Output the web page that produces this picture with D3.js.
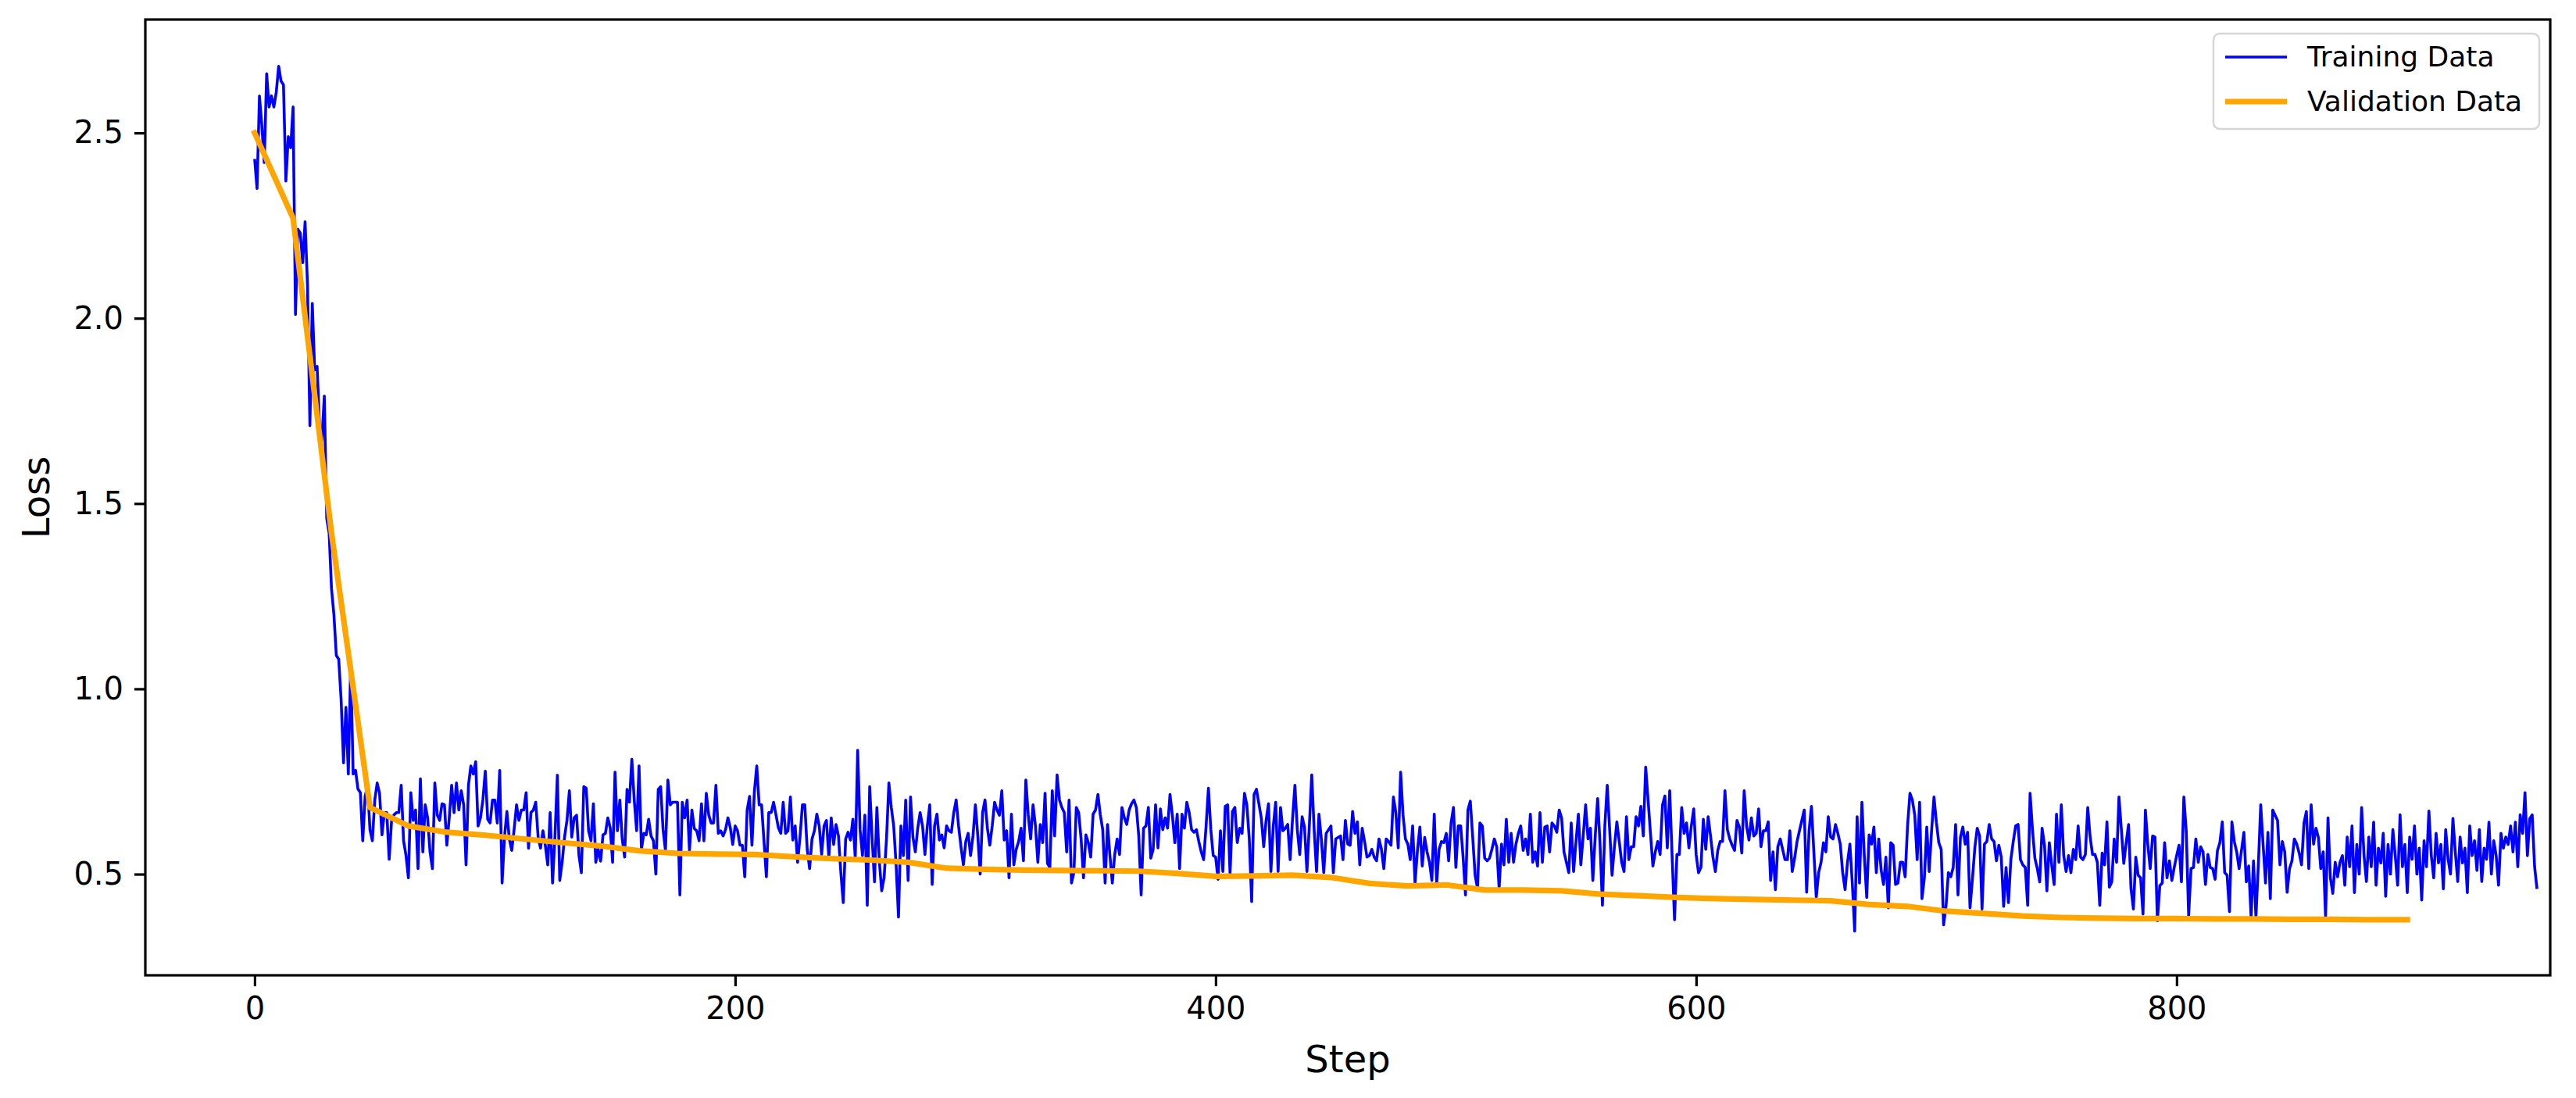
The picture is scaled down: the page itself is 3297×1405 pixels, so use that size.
<!DOCTYPE html>
<html>
<head>
<meta charset="utf-8">
<script src="https://cdn.jsdelivr.net/npm/d3@7"></script>
<style>
  body { margin: 0; background: #fff; }
  svg { display: block; }
</style>
</head>
<body>
<svg id="chart" width="3297" height="1405"></svg>
<script>
// ---------------- data ----------------
const trainLoss = [
  // steps 0-46
  2.43,2.35,2.60,2.52,2.42,2.66,2.57,2.60,2.57,2.61,2.68,2.64,2.63,2.37,2.49,2.46,2.57,2.01,2.24,2.23,
  2.15,2.26,2.09,1.71,2.04,1.86,1.87,1.71,1.67,1.79,1.46,1.42,1.27,1.20,1.09,1.08,0.97,0.80,0.95,0.77,
  1.07,0.77,0.78,0.73,0.72,0.59,0.71,
  // steps 47-137
  0.74,0.62,0.59,0.70,0.746,0.718,0.606,0.666,0.666,0.54,
  0.645,0.66,0.666,0.666,0.74,0.59,0.55,0.49,0.72,0.645,
  0.673,0.515,0.757,0.56,0.687,0.652,0.56,0.515,0.746,0.66,
  0.645,0.69,0.687,0.578,0.652,0.74,0.666,0.746,0.673,0.725,
  0.687,0.525,0.74,0.792,0.77,0.803,0.63,0.652,0.70,0.778,
  0.648,0.638,0.70,0.70,0.638,0.78,0.476,0.60,0.669,0.595,
  0.564,0.62,0.687,0.645,0.673,0.673,0.72,0.57,0.666,0.673,
  0.694,0.60,0.57,0.617,0.577,0.525,0.666,0.476,0.60,0.767,
  0.483,0.532,0.60,0.645,0.725,0.60,0.652,0.659,0.55,0.504,
  0.736,
  // steps 138-228
  0.732,0.617,0.59,0.69,0.532,0.567,0.535,0.606,0.61,0.652,
  0.625,0.532,0.775,0.617,0.70,0.595,0.546,0.729,0.694,0.81,
  0.70,0.617,0.792,0.567,0.61,0.606,0.648,0.603,0.59,0.50,
  0.729,0.736,0.62,0.564,0.754,0.687,0.694,0.694,0.694,0.444,
  0.694,0.652,0.70,0.564,0.673,0.623,0.617,0.59,0.69,0.59,
  0.718,0.66,0.638,0.638,0.74,0.61,0.617,0.603,0.62,0.652,
  0.625,0.58,0.63,0.617,0.578,0.578,0.493,0.673,0.71,0.578,
  0.722,0.792,0.687,0.687,0.59,0.493,0.666,0.666,0.694,0.66,
  0.625,0.61,0.694,0.61,0.617,0.708,0.592,0.63,0.532,0.60,
  0.687,
  // steps 229-319
  0.687,0.567,0.515,0.595,0.617,0.662,0.63,0.553,0.63,0.645,
  0.546,0.652,0.58,0.634,0.603,0.504,0.423,0.595,0.613,0.592,
  0.648,0.543,0.834,0.62,0.55,0.659,0.416,0.736,0.60,0.479,0.68,0.536,
  0.455,0.49,0.595,0.746,0.68,0.63,0.525,0.384,0.63,0.55,0.70,
  0.483,0.708,0.60,0.56,0.624,0.666,0.63,0.553,0.63,0.687,0.472,
  0.63,0.662,0.592,0.606,0.571,0.63,0.617,0.613,0.666,0.70,
  0.63,0.574,0.525,0.588,0.61,0.55,0.603,0.687,0.603,0.50,
  0.666,0.70,0.624,0.578,0.63,0.694,0.673,0.659,0.725,0.592,
  0.617,0.49,0.662,0.525,0.567,0.588,0.624,
  // steps 320-410
  0.536,0.754,0.66,0.595,0.687,0.63,0.532,0.634,0.585,0.718,0.529,
  0.518,0.725,0.603,0.768,0.70,0.68,0.666,0.56,0.70,0.476,0.504,
  0.68,0.666,0.595,0.49,0.606,0.585,0.546,0.662,0.673,0.715,0.66,
  0.62,0.476,0.634,0.55,0.476,0.553,0.595,0.553,0.68,0.652,
  0.634,0.673,0.69,0.70,0.68,0.603,0.444,0.624,0.63,0.68,0.543,
  0.567,0.687,0.571,0.676,0.62,0.652,0.624,0.715,0.659,0.585,
  0.662,0.515,0.662,0.624,0.694,0.666,0.62,0.613,0.62,0.588,
  0.56,0.539,0.627,0.732,0.62,0.55,0.546,0.486,0.617,0.507,0.683,
  0.687,0.50,0.669,0.68,0.585,0.624,
  // steps 411-501
  0.61,0.718,0.687,0.595,0.426,0.715,0.729,0.69,0.652,0.574,0.645,
  0.69,0.507,0.63,0.694,0.507,0.68,0.617,0.624,0.634,0.539,
  0.648,0.74,0.62,0.553,0.655,0.627,0.507,0.63,0.768,0.62,0.507,0.662,
  0.595,0.504,0.61,0.62,0.63,0.504,0.595,0.599,0.603,0.539,
  0.645,0.581,0.578,0.669,0.61,0.641,0.525,0.624,0.588,0.546,
  0.55,0.567,0.546,0.536,0.595,0.567,0.515,0.595,0.588,0.578,
  0.708,0.666,0.571,0.775,0.66,0.595,0.581,0.539,0.63,0.476,0.564,
  0.627,0.522,0.599,0.56,0.532,0.483,0.662,0.476,0.567,0.588,
  0.585,0.61,0.536,0.638,0.68,0.518,0.63,
  // steps 502-592
  0.63,0.546,0.444,0.673,0.697,0.60,0.497,0.462,0.638,0.63,0.543,
  0.536,0.543,0.567,0.595,0.574,0.462,0.581,0.525,0.648,0.532,
  0.61,0.532,0.581,0.61,0.63,0.564,0.595,0.553,0.662,0.532,
  0.56,0.522,0.666,0.532,0.627,0.63,0.56,0.638,0.63,0.613,
  0.673,0.652,0.56,0.532,0.504,0.638,0.507,0.588,0.662,0.525,
  0.603,0.687,0.595,0.624,0.483,0.603,0.704,0.581,0.416,0.63,
  0.74,0.62,0.497,0.574,0.641,0.588,0.532,0.507,0.655,0.539,0.574,
  0.574,0.655,0.63,0.683,0.603,0.789,0.70,0.61,0.522,0.56,0.588,
  0.553,0.687,0.711,0.571,0.725,0.55,0.377,0.553,
  // steps 593-683
  0.553,0.68,0.61,0.638,0.571,0.63,0.676,0.553,0.504,0.518,
  0.648,0.567,0.655,0.603,0.546,0.507,0.564,0.588,0.588,0.725,0.62,
  0.595,0.578,0.564,0.645,0.627,0.557,0.725,0.63,0.592,0.652,0.603,
  0.61,0.676,0.574,0.617,0.617,0.641,0.483,0.56,0.458,0.574,
  0.595,0.567,0.539,0.539,0.617,0.507,0.543,0.588,0.617,0.645,
  0.673,0.451,0.617,0.683,0.56,0.437,0.504,0.532,0.585,0.56,0.655,0.60,
  0.595,0.634,0.61,0.581,0.504,0.458,0.532,0.581,0.476,0.346,
  0.655,0.476,0.694,0.55,0.437,0.606,0.581,0.627,0.504,0.595,0.511,
  0.472,0.546,0.409,0.585,0.578,0.472,
  // steps 684-774
  0.476,0.532,0.532,0.493,0.63,0.718,0.70,0.659,0.539,0.694,0.434,
  0.49,0.627,0.507,0.617,0.708,0.64,0.585,0.567,0.363,0.413,0.504,
  0.493,0.518,0.634,0.444,0.599,0.627,0.581,0.613,0.409,0.486,
  0.571,0.624,0.603,0.406,0.581,0.588,0.634,0.595,0.588,0.536,
  0.578,0.546,0.413,0.518,0.423,0.539,0.588,0.63,0.634,0.539,
  0.525,0.518,0.416,0.718,0.62,0.543,0.515,0.479,0.624,0.578,0.455,
  0.585,0.525,0.472,0.662,0.532,0.687,0.55,0.507,0.55,0.504,
  0.567,0.539,0.63,0.546,0.539,0.553,0.68,0.60,0.553,0.553,0.532,
  0.416,0.557,0.525,0.641,0.465,0.479,0.595,
  // steps 775-868
  0.532,0.708,0.62,0.529,0.585,0.634,0.462,0.406,0.546,0.497,0.49,
  0.392,0.673,0.58,0.515,0.603,0.60,0.374,0.469,0.476,0.585,0.49,
  0.536,0.483,0.518,0.55,0.578,0.479,0.708,0.617,0.388,0.515,
  0.518,0.595,0.532,0.574,0.56,0.472,0.553,0.518,0.515,0.486,
  0.564,0.585,0.641,0.504,0.497,0.399,0.641,0.588,0.56,0.515,
  0.564,0.613,0.479,0.522,0.384,0.536,0.384,0.522,0.687,0.58,0.476,
  0.613,0.434,0.673,0.659,0.645,0.525,0.588,0.56,0.451,0.515,
  0.536,0.595,0.581,0.557,0.525,0.638,0.669,0.515,0.687,0.581,
  0.624,0.599,0.515,0.56,0.384,0.652,0.49,0.448,0.532,0.493,
  0.532,
  // steps 869-950
  0.55,0.47,0.60,0.52,0.63,0.45,0.58,0.50,0.68,0.55,0.48,0.60,
  0.52,0.64,0.47,0.57,0.53,0.61,0.44,0.58,0.50,0.62,0.55,0.47,0.66,0.52,0.58,
  0.45,0.60,0.54,0.63,0.50,0.57,0.43,0.59,0.52,0.67,0.55,0.49,0.61,0.53,0.58,
  0.46,0.62,0.54,0.50,0.65,0.56,0.48,0.60,0.53,0.57,0.45,0.63,0.55,0.59,0.51,
  0.62,0.48,0.57,0.54,0.64,0.50,0.59,0.55,0.47,0.61,0.57,0.60,0.58,0.63,0.56,
  0.64,0.52,0.66,0.61,0.72,0.55,0.65,0.66,0.52,0.46
];

const valSteps = [0,16,32,48,64,80,96,112,128,144,160,176,192,208,224,240,256,272,288,304,
  320,336,352,368,384,400,416,432,448,464,480,496,512,528,544,560,576,592,608,624,
  640,656,672,688,704,720,736,752,768,784,800,816,832,848,864,880,896];
const valLoss = [2.50,2.27,1.42,0.68,0.63,0.613,0.605,0.595,0.585,0.576,
  0.563,0.556,0.554,0.553,0.547,0.542,0.538,0.532,0.516,0.513,
  0.511,0.510,0.509,0.508,0.502,0.494,0.495,0.497,0.491,0.475,
  0.468,0.471,0.457,0.457,0.455,0.446,0.442,0.437,0.434,0.432,
  0.430,0.428,0.418,0.413,0.400,0.394,0.387,0.383,0.381,0.380,
  0.380,0.379,0.379,0.378,0.378,0.377,0.377];

const seriesNames = ["Training Data", "Validation Data"];
const xTicks = [0, 200, 400, 600, 800];
const yTicks = [0.5, 1.0, 1.5, 2.0, 2.5];
const xDomain = [-45.5, 955.5];
const yDomain = [0.227, 2.806];

// ---------------- layout ----------------
const W = 3297, H = 1405;
const P = { left: 186, right: 3264, top: 25, bottom: 1248 };
const FONT = "'DejaVu Sans', sans-serif";

const x = d3.scaleLinear().domain(xDomain).range([P.left, P.right]);
const y = d3.scaleLinear().domain(yDomain).range([P.bottom, P.top]);

const svg = d3.select("#chart");
svg.append("rect").attr("width", W).attr("height", H).attr("fill", "#fff");

const line = d3.line().x(d => x(d[0])).y(d => y(d[1]));
const trainPts = trainLoss.map((v, i) => [i, v]);
const valPts = valSteps.map((s, i) => [s, valLoss[i]]);

svg.append("path").datum(trainPts)
  .attr("d", line).attr("fill", "none")
  .attr("stroke", "blue").attr("stroke-width", 3.6)
  .attr("stroke-linejoin", "round");

svg.append("path").datum(valPts)
  .attr("d", line).attr("fill", "none")
  .attr("stroke", "orange").attr("stroke-width", 7.2)
  .attr("stroke-linejoin", "round").attr("stroke-linecap", "square");

// axes
const gx = svg.append("g").attr("transform", `translate(0,${P.bottom})`)
  .call(d3.axisBottom(x).tickValues(xTicks).tickFormat(d3.format("d")).tickSize(14).tickPadding(14));
gx.select(".domain").remove();
gx.attr("font-size", 40).attr("font-family", FONT);
gx.selectAll(".tick line").attr("stroke", "#000").attr("stroke-width", 3.2);
gx.selectAll(".tick text").attr("fill", "#000");

const gy = svg.append("g").attr("transform", `translate(${P.left},0)`)
  .call(d3.axisLeft(y).tickValues(yTicks).tickFormat(d3.format(".1f")).tickSize(14).tickPadding(14));
gy.select(".domain").remove();
gy.attr("font-size", 40).attr("font-family", FONT);
gy.selectAll(".tick line").attr("stroke", "#000").attr("stroke-width", 3.2);
gy.selectAll(".tick text").attr("fill", "#000");

// frame
svg.append("rect")
  .attr("x", P.left).attr("y", P.top)
  .attr("width", P.right - P.left).attr("height", P.bottom - P.top)
  .attr("fill", "none").attr("stroke", "#000").attr("stroke-width", 3.2);

// axis titles
svg.append("text").attr("x", (P.left + P.right) / 2).attr("y", 1372)
  .attr("text-anchor", "middle").attr("font-family", FONT).attr("font-size", 48)
  .text("Step");
svg.append("text")
  .attr("transform", `translate(63,${(P.top + P.bottom) / 2}) rotate(-90)`)
  .attr("text-anchor", "middle").attr("font-family", FONT).attr("font-size", 48)
  .text("Loss");

// legend
const lg = svg.append("g");
lg.append("rect").attr("x", 2833).attr("y", 43).attr("width", 417).attr("height", 122)
  .attr("rx", 8).attr("fill", "#fff").attr("fill-opacity", 0.8)
  .attr("stroke", "#d6d6d6").attr("stroke-width", 2.5);
const legendColors = ["blue", "orange"];
const legendWidths = [3.6, 7.2];
seriesNames.forEach((name, i) => {
  const cy = 73 + i * 57;
  lg.append("line").attr("x1", 2848).attr("x2", 2927).attr("y1", cy).attr("y2", cy)
    .attr("stroke", legendColors[i]).attr("stroke-width", legendWidths[i]);
  lg.append("text").attr("x", 2953).attr("y", cy + 12)
    .attr("font-family", FONT).attr("font-size", 36).attr("fill", "#000")
    .text(name);
});
</script>
</body>
</html>
